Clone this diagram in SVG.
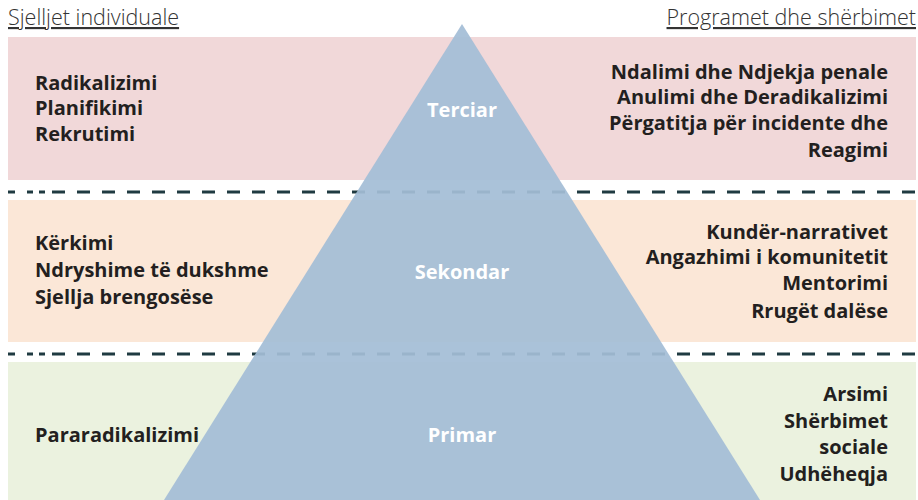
<svg xmlns="http://www.w3.org/2000/svg" width="918" height="500" viewBox="0 0 918 500">
<style>
.hdr{font-family:"Open Sans","Liberation Sans",sans-serif;font-size:21.5px;font-weight:300;fill:#333;text-decoration:underline}
.lbl{font-family:"Open Sans","Liberation Sans",sans-serif;font-size:20px;font-weight:700;fill:#231f20}
.lvl{font-family:"Open Sans","Liberation Sans",sans-serif;font-size:20px;font-weight:700;fill:#ffffff;text-anchor:middle}
.r{text-anchor:end}
.dash{stroke:#1f3a41;stroke-width:3;fill:none}
</style>
<rect x="0" y="0" width="918" height="500" fill="#ffffff"/>
<g id="bands">
<rect x="8" y="37" width="908" height="143" fill="#f1d8d9"/>
<rect x="8" y="200" width="908" height="142" fill="#fbe7d7"/>
<rect x="8" y="362" width="908" height="138" fill="#ebf2df"/>
</g>
<g id="connectors">
<path class="dash" d="M8 192H916" stroke-dasharray="7 12 6 6 6 7 13 12 13 12 13 12 13 12 13 12 13 12 13 12 13 12 13 12 13 12 13 12 13 12 13 12 13 12 13 12 13 12 13 12 13 12 13 12 13 12 13 12 13 12 13 12 13 12 13 12 13 12 13 12 13 12 13 12 13 12 13 12 13 12 13 12 13 12 13 12 13 12 13 12 13 12 13 12 13 12 13 12 13 12 13 12 13 12"/>
<path class="dash" d="M8 354H916" stroke-dasharray="7 12 6 6 6 7 13 12 13 12 13 12 13 12 13 12 13 12 13 12 13 12 13 12 13 12 13 12 13 12 13 12 13 12 13 12 13 12 13 12 13 12 13 12 13 12 13 12 13 12 13 12 13 12 13 12 13 12 13 12 13 12 13 12 13 12 13 12 13 12 13 12 13 12 13 12 13 12 13 12 13 12 13 12 13 12 13 12 13 12 13 12"/>
</g>
<g id="pyramid">
<polygon points="462,24 164,500 760,500" fill="#a4bdd6" fill-opacity="0.93"/>
</g>
<g id="headers">
<text class="hdr" x="8" y="25">Sjelljet individuale</text>
<text class="hdr r" x="916" y="25">Programet dhe shërbimet</text>
</g>
<g id="tertiary">
<text class="lbl" x="35" y="90">Radikalizimi</text>
<text class="lbl" x="35" y="115">Planifikimi</text>
<text class="lbl" x="35" y="141">Rekrutimi</text>
<text class="lvl" x="462" y="117">Terciar</text>
<text class="lbl r" x="888" y="79">Ndalimi dhe Ndjekja penale</text>
<text class="lbl r" x="888" y="104">Anulimi dhe Deradikalizimi</text>
<text class="lbl r" x="888" y="130">Përgatitja për incidente dhe</text>
<text class="lbl r" x="888" y="157">Reagimi</text>
</g>
<g id="secondary">
<text class="lbl" x="35" y="250">Kërkimi</text>
<text class="lbl" x="35" y="277">Ndryshime të dukshme</text>
<text class="lbl" x="35" y="304">Sjellja brengosëse</text>
<text class="lvl" x="462" y="279">Sekondar</text>
<text class="lbl r" x="888" y="239">Kundër-narrativet</text>
<text class="lbl r" x="888" y="264">Angazhimi i komunitetit</text>
<text class="lbl r" x="888" y="290">Mentorimi</text>
<text class="lbl r" x="888" y="318">Rrugët dalëse</text>
</g>
<g id="primary">
<text class="lbl" x="35" y="442">Pararadikalizimi</text>
<text class="lvl" x="462" y="442">Primar</text>
<text class="lbl r" x="888" y="401">Arsimi</text>
<text class="lbl r" x="888" y="428">Shërbimet</text>
<text class="lbl r" x="888" y="454">sociale</text>
<text class="lbl r" x="888" y="481">Udhëheqja</text>
</g>
</svg>
